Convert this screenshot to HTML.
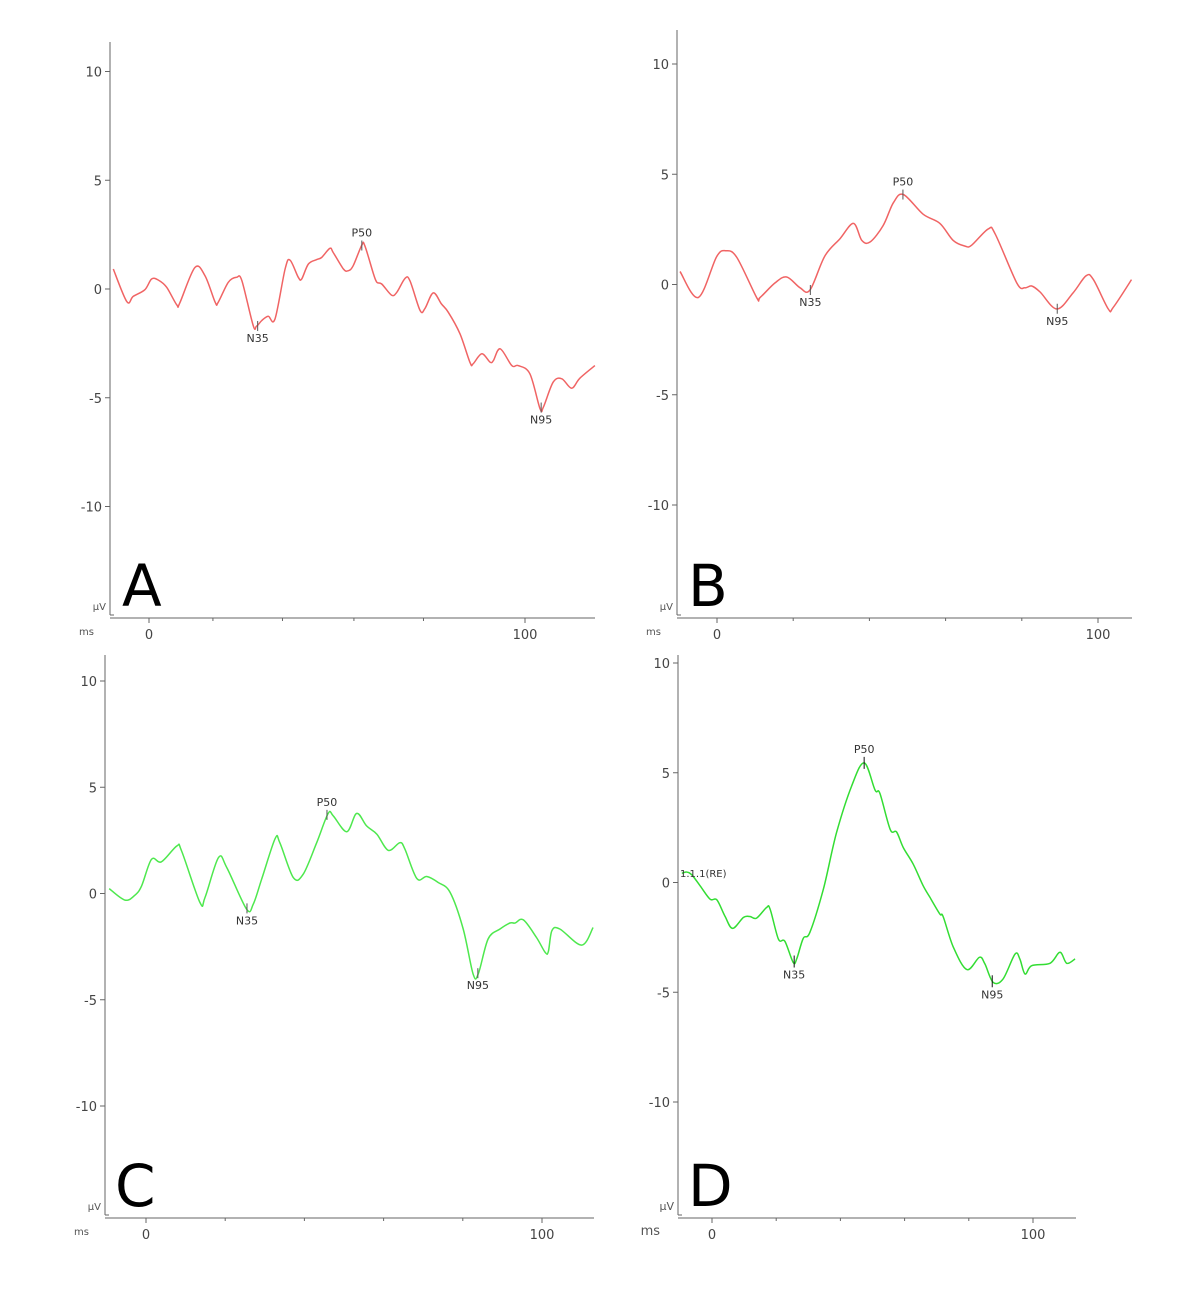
<!DOCTYPE html>
<html><head><meta charset="utf-8">
<style>
html,body{margin:0;padding:0;background:#fff;}
svg{display:block;font-family:"DejaVu Sans","Liberation Sans",sans-serif;}
</style></head>
<body>
<svg id="chart" width="1182" height="1299" viewBox="0 0 1182 1299" xmlns="http://www.w3.org/2000/svg"></svg>
<script>
// Panel A data (ms, µV)
const aMs=[-9.5,-5.9,-4.2,-1.1,0.7,2.5,4.7,7.4,8.2,12.2,14.9,17.6,18.4,21.1,23.3,24.7,27.7,28.6,30.0,31.7,33.5,36.2,37.5,39.7,40.6,42.4,44.6,45.9,48.1,49.0,51.7,53.0,54.3,56.6,57.4,59.7,60.6,61.9,64.5,65.9,68.1,69.4,72.1,73.4,75.6,77.8,79.6,82.7,85.4,86.2,88.5,90.7,91.6,93.4,96.5,98.2,101.3,104.0,104.9,107.5,109.8,112.4,114.6,118.6];
const aUv=[0.92,-0.58,-0.34,-0.03,0.46,0.41,0.08,-0.73,-0.64,0.99,0.61,-0.61,-0.61,0.31,0.54,0.38,-1.68,-1.71,-1.45,-1.25,-1.38,0.92,1.33,0.54,0.46,1.15,1.35,1.45,1.87,1.68,0.92,0.84,1.07,2.02,1.99,0.69,0.31,0.23,-0.28,-0.15,0.49,0.38,-0.99,-0.89,-0.18,-0.69,-1.07,-2.06,-3.39,-3.44,-2.98,-3.36,-3.29,-2.75,-3.52,-3.52,-3.90,-5.50,-5.43,-4.28,-4.13,-4.56,-4.10,-3.52];
const aPeakNames=["N35","P50","N95"];
const aPeakMs=[28.9,56.6,104.3];
const aPeakUv=[-1.7,2.0,-5.45];
// Panel B data
const bMs=[-9.7,-4.9,-0.1,2.4,5.2,10.4,11.3,15.2,18.3,21.8,24.4,28.3,32.3,35.8,38.0,40.2,43.6,46.3,48.9,54.1,58.5,62.0,65.1,66.8,71.2,73.0,78.7,80.8,82.6,84.8,89.2,93.5,96.9,98.8,102.7,104.0,108.8];
const bUv=[0.59,-0.59,1.26,1.53,1.23,-0.59,-0.59,0.07,0.34,-0.15,-0.25,1.29,2.08,2.77,2.0,1.93,2.67,3.71,4.08,3.19,2.77,2.0,1.74,1.78,2.52,2.30,0.07,-0.15,-0.07,-0.34,-1.11,-0.37,0.40,0.22,-1.11,-1.04,0.22];
const bPeakNames=["N35","P50","N95"];
const bPeakMs=[24.5,48.8,89.3];
const bPeakUv=[-0.25,4.08,-1.1];
// Panel C data
const cMs=[-9.3,-5.3,-2.8,-1.1,1.4,3.9,7.8,9.0,13.6,14.9,18.3,20.4,25.4,27.1,29.2,32.6,33.8,37.2,39.7,43.1,46.0,47.3,50.7,53.2,55.7,58.3,61.2,64.1,65.4,68.4,70.9,73.8,76.8,80.1,82.6,83.9,86.4,89.4,91.9,93.2,95.3,98.6,100.8,101.6,102.5,104.5,110.0,112.9];
const cUv=[0.23,-0.31,-0.08,0.36,1.61,1.49,2.24,2.0,-0.42,-0.19,1.69,1.22,-0.74,-0.5,0.67,2.58,2.39,0.75,0.91,2.39,3.77,3.65,2.91,3.77,3.18,2.79,2.03,2.39,2.08,0.7,0.8,0.52,0.05,-1.67,-3.79,-3.79,-2.14,-1.67,-1.39,-1.39,-1.24,-2.07,-2.77,-2.74,-1.75,-1.67,-2.43,-1.6];
const cPeakNames=["N35","P50","N95"];
const cPeakMs=[25.5,45.7,83.8];
const cPeakUv=[-0.7,3.7,-3.75];
// Panel D data
const dMs=[-9.4,-7.9,-6.3,-3.7,-0.6,1.5,4.0,6.4,9.8,11.8,13.9,17.0,18.1,20.7,22.7,25.3,26.4,28.4,30.5,34.7,38.8,43.5,47.4,50.8,52.3,55.5,57.5,59.6,62.7,65.8,67.9,71.0,72.0,75.2,79.4,83.3,85.0,87.6,90.7,94.4,95.9,97.5,99.6,105.3,108.4,110.5,113.1];
const dUv=[0.42,0.48,0.35,-0.15,-0.76,-0.79,-1.52,-2.09,-1.59,-1.55,-1.62,-1.14,-1.21,-2.58,-2.68,-3.64,-3.48,-2.55,-2.27,-0.30,2.27,4.39,5.45,4.21,4.06,2.42,2.30,1.59,0.83,-0.15,-0.68,-1.44,-1.55,-2.95,-3.97,-3.41,-3.71,-4.55,-4.39,-3.26,-3.48,-4.17,-3.79,-3.68,-3.18,-3.68,-3.48];
const dPeakNames=["N35","P50","N95"];
const dPeakMs=[25.6,47.4,87.3];
const dPeakUv=[-3.6,5.45,-4.5];
const yTicks=[10,5,0,-5,-10];
const xTickLabels=[0,100];

const NS="http://www.w3.org/2000/svg";
const svg=document.getElementById('chart');
function mk(tag,attrs,parent){const e=document.createElementNS(NS,tag);for(const k in attrs)e.setAttribute(k,attrs[k]);(parent||svg).appendChild(e);return e;}

const panels=[
 {id:'a',letter:'A',ms:aMs,uv:aUv,pn:aPeakNames,pm:aPeakMs,pu:aPeakUv,color:'#f06464',axX:110,top:42,bot:617,xEnd:595,y0:289,ky:21.75,x0:149,kx:3.76,minor:[17,35.5,54.5,73],big:false,mark:'#555'},
 {id:'b',letter:'B',ms:bMs,uv:bUv,pn:bPeakNames,pm:bPeakMs,pu:bPeakUv,color:'#f06464',axX:677,top:30,bot:617,xEnd:1132,y0:284.5,ky:22.05,x0:717,kx:3.81,minor:[20,40,60,80],big:false,mark:'#555'},
 {id:'c',letter:'C',ms:cMs,uv:cUv,pn:cPeakNames,pm:cPeakMs,pu:cPeakUv,color:'#4ee84e',axX:105,top:655,bot:1217,xEnd:594,y0:893.5,ky:21.25,x0:146,kx:3.96,minor:[20,40,60,80],big:false,mark:'#555'},
 {id:'d',letter:'D',ms:dMs,uv:dUv,pn:dPeakNames,pm:dPeakMs,pu:dPeakUv,color:'#33dd33',axX:678,top:655,bot:1217,xEnd:1076,y0:882.5,ky:21.95,x0:712,kx:3.21,minor:[20,40,60,80],big:true,mark:'#111'}
];

panels.forEach(p=>{
  const g=mk('g',{});
  
  
  const X=ms=>p.x0+ms*p.kx;
  const Y=uv=>p.y0-uv*p.ky;
  const axisCol='#666';
  const fs=13;
  const ya=mk('line',{x1:p.axX,y1:p.top,x2:p.axX,y2:p.bot-2,stroke:axisCol,'stroke-width':1},g);
  
  
  mk('line',{x1:p.axX,y1:p.bot-2,x2:p.axX+4,y2:p.bot-2,stroke:axisCol,'stroke-width':1},g);
  yTicks.forEach(t=>{
    const yy=Y(t);
    mk('line',{x1:p.axX-5,y1:yy,x2:p.axX,y2:yy,stroke:axisCol,'stroke-width':1},g);
    const tx=mk('text',{x:p.axX-8,y:yy+5,'text-anchor':'end','font-size':fs,fill:'#444'},g);
    tx.textContent=String(t);
    
    
  });
  const xa=mk('line',{x1:p.axX,y1:p.bot+1,x2:p.xEnd,y2:p.bot+1,stroke:axisCol,'stroke-width':1},g);
  
  
  p.minor.forEach(m=>{mk('line',{x1:X(m),y1:p.bot+1,x2:X(m),y2:p.bot+4,stroke:axisCol,'stroke-width':1},g);});
  xTickLabels.forEach(t=>{
    mk('line',{x1:X(t),y1:p.bot+1,x2:X(t),y2:p.bot+6,stroke:axisCol,'stroke-width':1},g);
    const tx=mk('text',{x:X(t),y:p.bot+22,'text-anchor':'middle','font-size':fs,fill:'#444'},g);
    tx.textContent=String(t);
    
    
  });
  const uvl=mk('text',{x:p.axX-4,y:p.bot-7,'text-anchor':'end','font-size':p.big?11:10,fill:'#555'},g);
  uvl.textContent='µV';
  
  
  const msl=mk('text',{x:p.axX-(p.big?18:16),y:p.bot+18,'text-anchor':'end','font-size':p.big?13:10,fill:'#555'},g);
  msl.textContent='ms';
  
  
  const pts=p.ms.map((m,i)=>[X(m),Y(p.uv[i])]);
  let d='M'+pts[0][0].toFixed(1)+','+pts[0][1].toFixed(1);
  for(let i=0;i<pts.length-1;i++){
    const p0=pts[Math.max(0,i-1)],p1=pts[i],p2=pts[i+1],p3=pts[Math.min(pts.length-1,i+2)];
    const c1=[p1[0]+(p2[0]-p0[0])/6,p1[1]+(p2[1]-p0[1])/6];
    const c2=[p2[0]-(p3[0]-p1[0])/6,p2[1]-(p3[1]-p1[1])/6];
    d+=' C'+c1[0].toFixed(1)+','+c1[1].toFixed(1)+' '+c2[0].toFixed(1)+','+c2[1].toFixed(1)+' '+p2[0].toFixed(1)+','+p2[1].toFixed(1);
  }
  const tr=mk('path',{d:d,fill:'none',stroke:p.color,'stroke-width':1.5},g);
  
  
  p.pn.forEach((n,i)=>{
    const x=X(p.pm[i]),y=Y(p.pu[i]);
    const half=p.big?6:5;
    const ln=mk('line',{x1:x,y1:y-half,x2:x,y2:y+half,stroke:p.mark,'stroke-width':1},g);
    
    
    const isP=n[0]==='P';
    const ty=isP?y-half-4:y+half+11;
    const tx=mk('text',{x:x,y:ty,'text-anchor':'middle','font-size':11,fill:'#333'},g);
    tx.textContent=n;
    
    
  });
  const L=mk('text',{x:p.axX+(p.id==='a'?12:p.id==='b'?11:10),y:p.bot-11,'font-size':58,fill:'#000'},g);
  L.textContent=p.letter;
  
  
  if(p.id==='d'){
    const lab=mk('text',{x:680,y:877,'font-size':10,fill:'#333'},g);
    lab.textContent='1.1.1(RE)';
    
    
  }
});
</script>
</body></html>
